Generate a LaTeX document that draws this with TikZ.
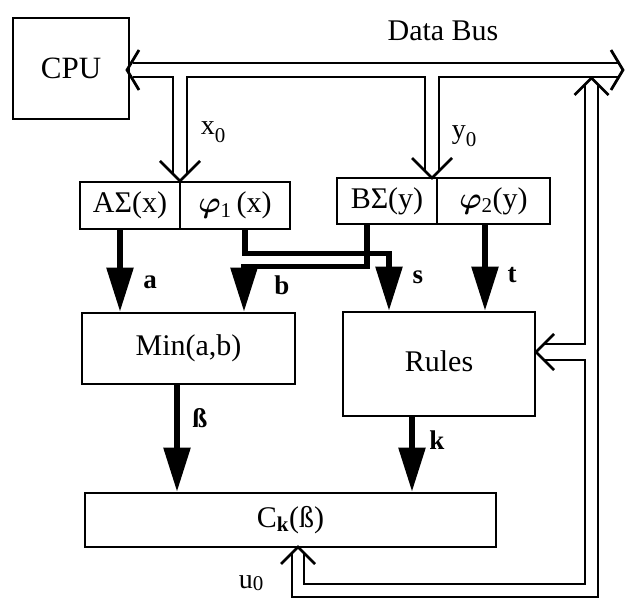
\RequirePackage{fix-cm}
\documentclass[tikz,border=0pt]{standalone}
\usepackage{fontspec}
\setmainfont{Liberation Serif}
\usepackage{bm}
\usetikzlibrary{arrows.meta,calc}

\newcommand\boxfont{\fontsize{30}{34}\selectfont}
\newcommand\cpufont{\fontsize{31}{35}\selectfont}
\newcommand\lblfont{\fontsize{27}{30}\selectfont\bfseries}
\newcommand\sigfont{\fontsize{28}{30}\selectfont}
\newcommand\lowsub[2][0.28em]{\raisebox{-#1}{\fontsize{21}{24}\selectfont #2}}

\tikzset{
  box/.style={draw, line width=2.6pt, inner sep=0pt, font=\boxfont},
  bus/.style={line width=2.8pt, line join=miter},
  openhead/.style={line width=2.8pt, line join=miter},
  fat/.style={line width=5.5pt, line join=miter, -{Triangle[length=44pt,width=26pt]}},
  lbl/.style={inner sep=0pt, font=\lblfont},
  sig/.style={inner sep=0pt, font=\sigfont},
}

\begin{document}
\begin{tikzpicture}[x=1pt,y=-1pt]
\fill[white] (0,0) rectangle (625,599);
\useasboundingbox (0,0) rectangle (625,599);

% processing blocks
\node[box, minimum width=116pt, minimum height=101pt, font=\cpufont] (cpu) at (71,68.5) {CPU};
\node[box, minimum width=100pt, minimum height=47pt] (ax) at (130,205.5) {AΣ(x)};
\node[box, minimum width=110pt, minimum height=47pt] (p1) at (235,205.5) {$\bm{\varphi}$\textsubscript{1}\,(x)};
\node[box, minimum width=100pt, minimum height=46pt] (by) at (387,201) {BΣ(y)};
\node[box, minimum width=113pt, minimum height=46pt] (p2) at (493.5,201) {$\bm{\varphi}$\textsubscript{2}(y)};
\node[box, minimum width=213pt, minimum height=71pt] (min) at (188.5,348.5) {Min(a,b)};
\node[box, minimum width=192pt, minimum height=104pt] (rules) at (439,364) {\raisebox{6pt}{Rules}};
\node[box, minimum width=411pt, minimum height=54pt] (ck) at (290.5,520) {C\textsubscript{\textbf{k}}(ß)};

\node[inner sep=0pt, font=\boxfont] (busname) at (443,31) {Data Bus};

% junction points of the double-line bus
\coordinate (bl) at (127,70);    % tip at the CPU
\coordinate (br) at (623,70);    % tip at the right end
\coordinate (xt) at (180,181);   % x0 tap tip
\coordinate (yt) at (432,178);   % y0 tap tip
\coordinate (rt) at (591.5,78);  % return tap tip on the bus
\coordinate (rr) at (536,352);   % tip into Rules
\coordinate (ut) at (298,547);   % u0 tip into C_k

% data bus: upper rail and lower rail with the two taps
\draw[bus] ($(bl)+(6,-7)$) -- ($(br)+(-3,-7)$);
\draw[bus] ($(bl)+(6,7)$) -- (173,77) -- ($(xt)+(-7,-7)$);
\draw[bus] ($(xt)+(7,-7)$) -- (187,77) -- (425,77) -- ($(yt)+(-7,-7)$);
\draw[bus] ($(yt)+(7,-7)$) -- (439,77) -- ($(br)+(-3,7)$);

% open arrowheads of the bus
\draw[openhead] ($(bl)+(12,-20)$) -- (bl) -- ($(bl)+(12,20)$);
\draw[openhead] ($(br)+(-12,-20)$) -- (br) -- ($(br)+(-12,20)$);
\draw[openhead] ($(xt)+(-20,-20)$) -- (xt) -- ($(xt)+(20,-20)$);
\draw[openhead] ($(yt)+(-20,-20)$) -- (yt) -- ($(yt)+(20,-20)$);
\draw[openhead] ($(rt)+(-17,17)$) -- (rt) -- ($(rt)+(17,17)$);
\draw[openhead] ($(rr)+(18,-18)$) -- (rr) -- ($(rr)+(18,18)$);
\draw[openhead] ($(ut)+(-17,17)$) -- (ut) -- ($(ut)+(17,17)$);

% return path from Rules / C_k up to the bus
\draw[bus] ($(rt)+(6.5,6.5)$) -- (598,597) -- (292,597) -- ($(ut)+(-6,6)$);
\draw[bus] ($(rt)+(-6.5,6.5)$) -- (585,344) -- ($(rr)+(8,-8)$);
\draw[bus] ($(rr)+(8,8)$) -- (585,360) -- (585,584) -- (304,584) -- ($(ut)+(6,6)$);

\node[sig] (x0) at (213,132) {x\lowsub{0}};
\node[sig] (y0) at (464,136) {y\lowsub{0}};
\node[sig] (u0) at (251,583) {u\lowsub[0.08em]{0}};

% signal arrows
\draw[fat] ([xshift=-10pt]ax.south) -- ([xshift=-10pt]ax.south |- min.north);
\draw[fat] ([xshift=-20pt]by.south) -- ++(0,41) -| ([xshift=55.5pt]min.north);
\draw[fat] ([xshift=10pt]p1.south) -- ++(0,23) -| ([xshift=-50pt]rules.north);
\draw[fat] ([xshift=-8.5pt]p2.south) -- ([xshift=-8.5pt]p2.south |- rules.north);
\draw[fat] ([xshift=-11.5pt]min.south) -- ([xshift=-11.5pt]min.south |- ck.north);
\draw[fat] ([xshift=-27pt]rules.south) -- ([xshift=-27pt]rules.south |- ck.north);

\node[lbl] (la) at (150,282) {a};
\node[lbl] (lb) at (282,285) {b};
\node[lbl] (ls) at (418,277) {s};
\node[lbl] (lt) at (512,275) {t};
\node[lbl] (lbeta) at (200,418) {ß};
\node[lbl] (lk) at (437,440) {k};
\end{tikzpicture}
\end{document}
